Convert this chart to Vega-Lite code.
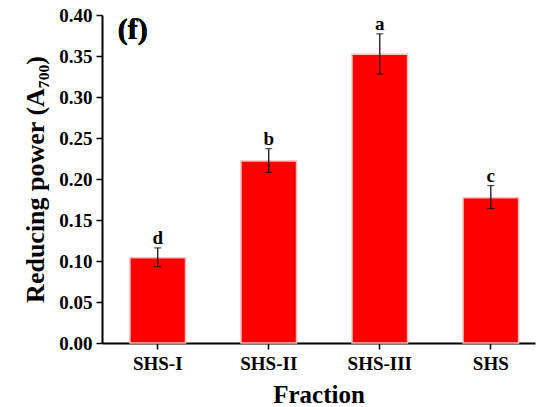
{
  "$schema": "https://vega.github.io/schema/vega-lite/v6.json",
  "width": 433,
  "height": 328,
  "autosize": {"type": "none"},
  "padding": {"left": 102, "top": 15, "right": 5, "bottom": 64},
  "background": "white",
  "config": {
    "view": {"stroke": null},
    "font": "Liberation Serif",
    "axis": {
      "labelFont": "Liberation Serif",
      "titleFont": "Liberation Serif",
      "labelFontWeight": "bold",
      "titleFontWeight": "bold",
      "labelColor": "black",
      "titleColor": "black",
      "domainColor": "black",
      "tickColor": "black",
      "domainWidth": 2,
      "tickWidth": 1.5,
      "tickSize": 6,
      "grid": false
    }
  },
  "data": {
    "values": [
      {"fraction": "SHS-I", "value": 0.104, "lo": 0.093, "hi": 0.116, "letter": "d"},
      {"fraction": "SHS-II", "value": 0.222, "lo": 0.208, "hi": 0.237, "letter": "b"},
      {"fraction": "SHS-III", "value": 0.352, "lo": 0.328, "hi": 0.377, "letter": "a"},
      {"fraction": "SHS", "value": 0.177, "lo": 0.164, "hi": 0.192, "letter": "c"}
    ]
  },
  "encoding": {
    "x": {
      "field": "fraction",
      "type": "nominal",
      "sort": ["SHS-I", "SHS-II", "SHS-III", "SHS"],
      "scale": {"paddingInner": 0.5, "paddingOuter": 0.2, "align": 0.63},
      "axis": {
        "title": "Fraction",
        "labelAngle": 0,
        "labelFontSize": 19,
        "titleFontSize": 25,
        "labelPadding": 5,
        "titlePadding": 9
      }
    }
  },
  "layer": [
    {
      "mark": {"type": "bar", "color": "#ff0000", "stroke": "#ffbcbc", "strokeWidth": 1.5},
      "encoding": {
        "y": {
          "field": "value",
          "type": "quantitative",
          "scale": {"domain": [0, 0.4], "nice": false, "zero": true},
          "axis": {
            "title": "Reducing power (A₇₀₀)",
            "values": [0, 0.05, 0.1, 0.15, 0.2, 0.25, 0.3, 0.35, 0.4],
            "format": ".2f",
            "labelFontSize": 19,
            "titleFontSize": 26,
            "labelPadding": 4,
            "titlePadding": 10
          }
        }
      }
    },
    {
      "mark": {"type": "rule", "color": "black", "strokeWidth": 1.2},
      "encoding": {
        "y": {"field": "lo", "type": "quantitative"},
        "y2": {"field": "hi"}
      }
    },
    {
      "mark": {"type": "tick", "color": "black", "size": 7, "thickness": 1.2},
      "encoding": {"y": {"field": "lo", "type": "quantitative"}}
    },
    {
      "mark": {"type": "tick", "color": "black", "size": 7, "thickness": 1.2},
      "encoding": {"y": {"field": "hi", "type": "quantitative"}}
    },
    {
      "mark": {"type": "text", "font": "Liberation Serif", "fontWeight": "bold", "fontSize": 19, "baseline": "alphabetic", "dy": -4, "color": "black"},
      "encoding": {
        "y": {"field": "hi", "type": "quantitative"},
        "text": {"field": "letter"}
      }
    },
    {
      "mark": {"type": "text", "font": "Liberation Serif", "fontWeight": "bold", "fontSize": 30, "baseline": "top", "align": "left", "dx": -40, "dy": 0, "color": "black"},
      "encoding": {
        "x": {"datum": "SHS-I"},
        "y": {"datum": 0.4},
        "text": {"value": "(f)"}
      }
    }
  ]
}
